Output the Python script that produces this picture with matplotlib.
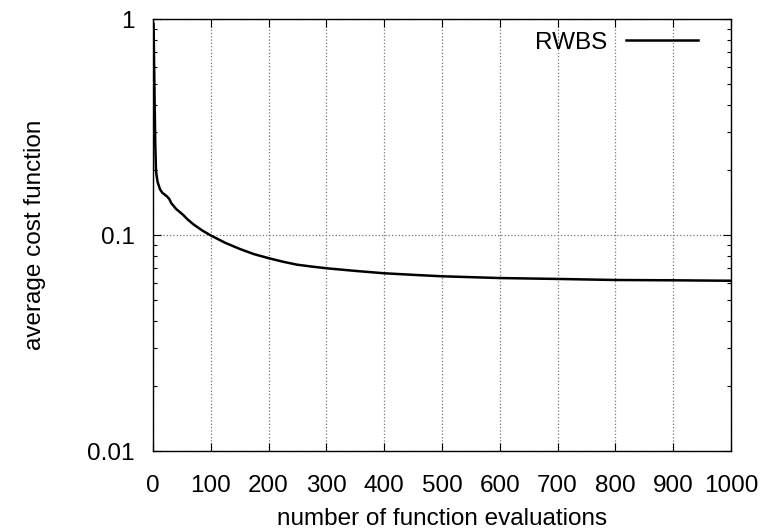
import matplotlib
matplotlib.use('Agg')
import matplotlib.pyplot as plt
from matplotlib.ticker import LogLocator, FixedLocator

# data
evals = [1, 2, 3, 4, 5, 6, 8, 12, 16, 20, 24, 28, 32, 40, 52, 60, 70, 85,
         100, 125, 151, 175, 201, 225, 249, 275, 301, 350, 400, 450, 500,
         550, 600, 650, 700, 800, 900, 1000]
cost = [0.95, 0.6, 0.38, 0.26, 0.205, 0.19, 0.176, 0.163, 0.157, 0.154,
        0.151, 0.147, 0.14, 0.132, 0.124, 0.118, 0.112, 0.105,
        0.0995, 0.092, 0.086, 0.0815, 0.078, 0.0752, 0.0729, 0.0714, 0.0701,
        0.0682, 0.0665, 0.0654, 0.0644, 0.0638, 0.0632, 0.0629, 0.0626,
        0.0619, 0.0617, 0.0614]
series_name = 'RWBS'
xticks = list(range(0, 1001, 100))
yticks = [0.01, 0.1, 1]
ytick_labels = ['0.01', '0.1', '1']

plt.rcParams['font.family'] = ['Liberation Sans', 'DejaVu Sans']
plt.rcParams['font.size'] = 17.5

fig = plt.figure(figsize=(7.67, 5.32), dpi=100)
ax = fig.add_axes([153 / 767, 1 - 451 / 532, (731 - 153) / 767, (451 - 19) / 532])

ax.plot(evals, cost, color='black', linewidth=1.8, label=series_name)

ax.set_yscale('log')
ax.set_xlim(0, 1000)
ax.set_ylim(0.01, 1)
ax.set_xticks(xticks)
ax.set_xticklabels([str(t) for t in xticks])
ax.yaxis.set_major_locator(FixedLocator(yticks))
ax.set_yticklabels(ytick_labels)
ax.yaxis.set_minor_locator(LogLocator(base=10, subs=range(2, 10)))
ax.yaxis.set_minor_formatter(plt.NullFormatter())

ax.tick_params(which='major', direction='in', length=6, width=0.8,
               top=True, right=True)
ax.tick_params(which='minor', direction='in', length=3, width=0.8,
               left=True, right=True)
ax.tick_params(axis='x', which='major', pad=17)
ax.tick_params(axis='y', which='major', pad=13)

ax.grid(True, which='major', linestyle=':', color='#777777', linewidth=0.9)
for s in ax.spines.values():
    s.set_linewidth(1.0)

ax.set_xlabel('number of function evaluations', labelpad=8)
ax.set_ylabel('average cost function', labelpad=30)

ax.legend(loc='upper right', frameon=False, markerfirst=False,
          handlelength=2.95, handletextpad=0.8, borderaxespad=0.0,
          bbox_to_anchor=(0.96, 0.993))

fig.savefig('out.png', dpi=100)
